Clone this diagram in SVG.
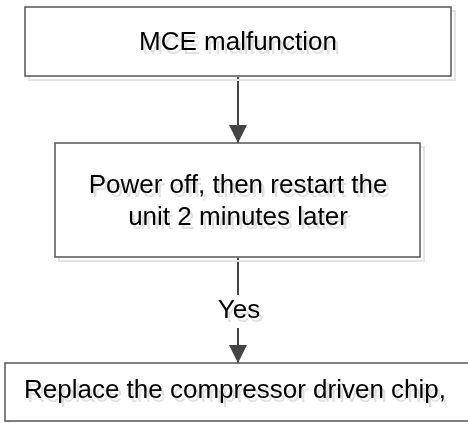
<svg xmlns="http://www.w3.org/2000/svg" width="468" height="423" viewBox="0 0 468 423">
<style>
.box{fill:#fff;stroke:#555;stroke-width:1.5}
.shd{fill:none;stroke:#e4e4e4;stroke-width:2}
.t{font-family:"Liberation Sans",Arial,sans-serif;font-size:26px;fill:#000}
.c{text-anchor:middle}
.ln{stroke:#444;stroke-width:2;fill:none}
</style>
<defs>
<filter id="sh" x="-10%" y="-20%" width="130%" height="160%">
<feOffset in="SourceAlpha" dx="3" dy="4" result="o"/>
<feFlood flood-color="#000" flood-opacity="0.12"/>
<feComposite in2="o" operator="in" result="s"/>
<feMerge><feMergeNode in="s"/><feMergeNode in="SourceGraphic"/></feMerge>
</filter>
<marker id="ah" viewBox="0 0 18 18" markerWidth="18" markerHeight="18" refX="18" refY="9" orient="auto" markerUnits="userSpaceOnUse">
<path d="M0,0 L18,9 L0,18 Z" fill="#444"/>
</marker>
</defs>
<rect width="468" height="423" fill="#fff"/>
<g id="connectors">
<line class="ln" x1="238" y1="77" x2="238" y2="143" marker-end="url(#ah)"/>
<line class="ln" x1="238" y1="258" x2="238" y2="295"/>
<line class="ln" x1="238" y1="328" x2="238" y2="363" marker-end="url(#ah)"/>
<text class="t c" x="239" y="318" filter="url(#sh)">Yes</text>
</g>
<g id="node-mce">
<rect class="shd" x="29" y="11" width="426" height="69"/>
<rect class="box" x="25" y="7" width="426" height="69"/>
<text class="t c" x="238" y="50" filter="url(#sh)">MCE malfunction</text>
</g>
<g id="node-power">
<rect class="shd" x="59" y="147" width="365" height="114"/>
<rect class="box" x="55" y="143" width="365" height="114"/>
<text class="t c" x="238" y="193" filter="url(#sh)">Power off, then restart the</text>
<text class="t c" x="238" y="225" filter="url(#sh)">unit 2 minutes later</text>
</g>
<g id="node-replace">
<rect class="shd" x="9" y="367" width="540" height="58"/>
<rect class="box" x="5" y="363" width="540" height="58"/>
<text class="t" x="24" y="398" filter="url(#sh)">Replace the compressor driven chip,</text>
</g>
</svg>
